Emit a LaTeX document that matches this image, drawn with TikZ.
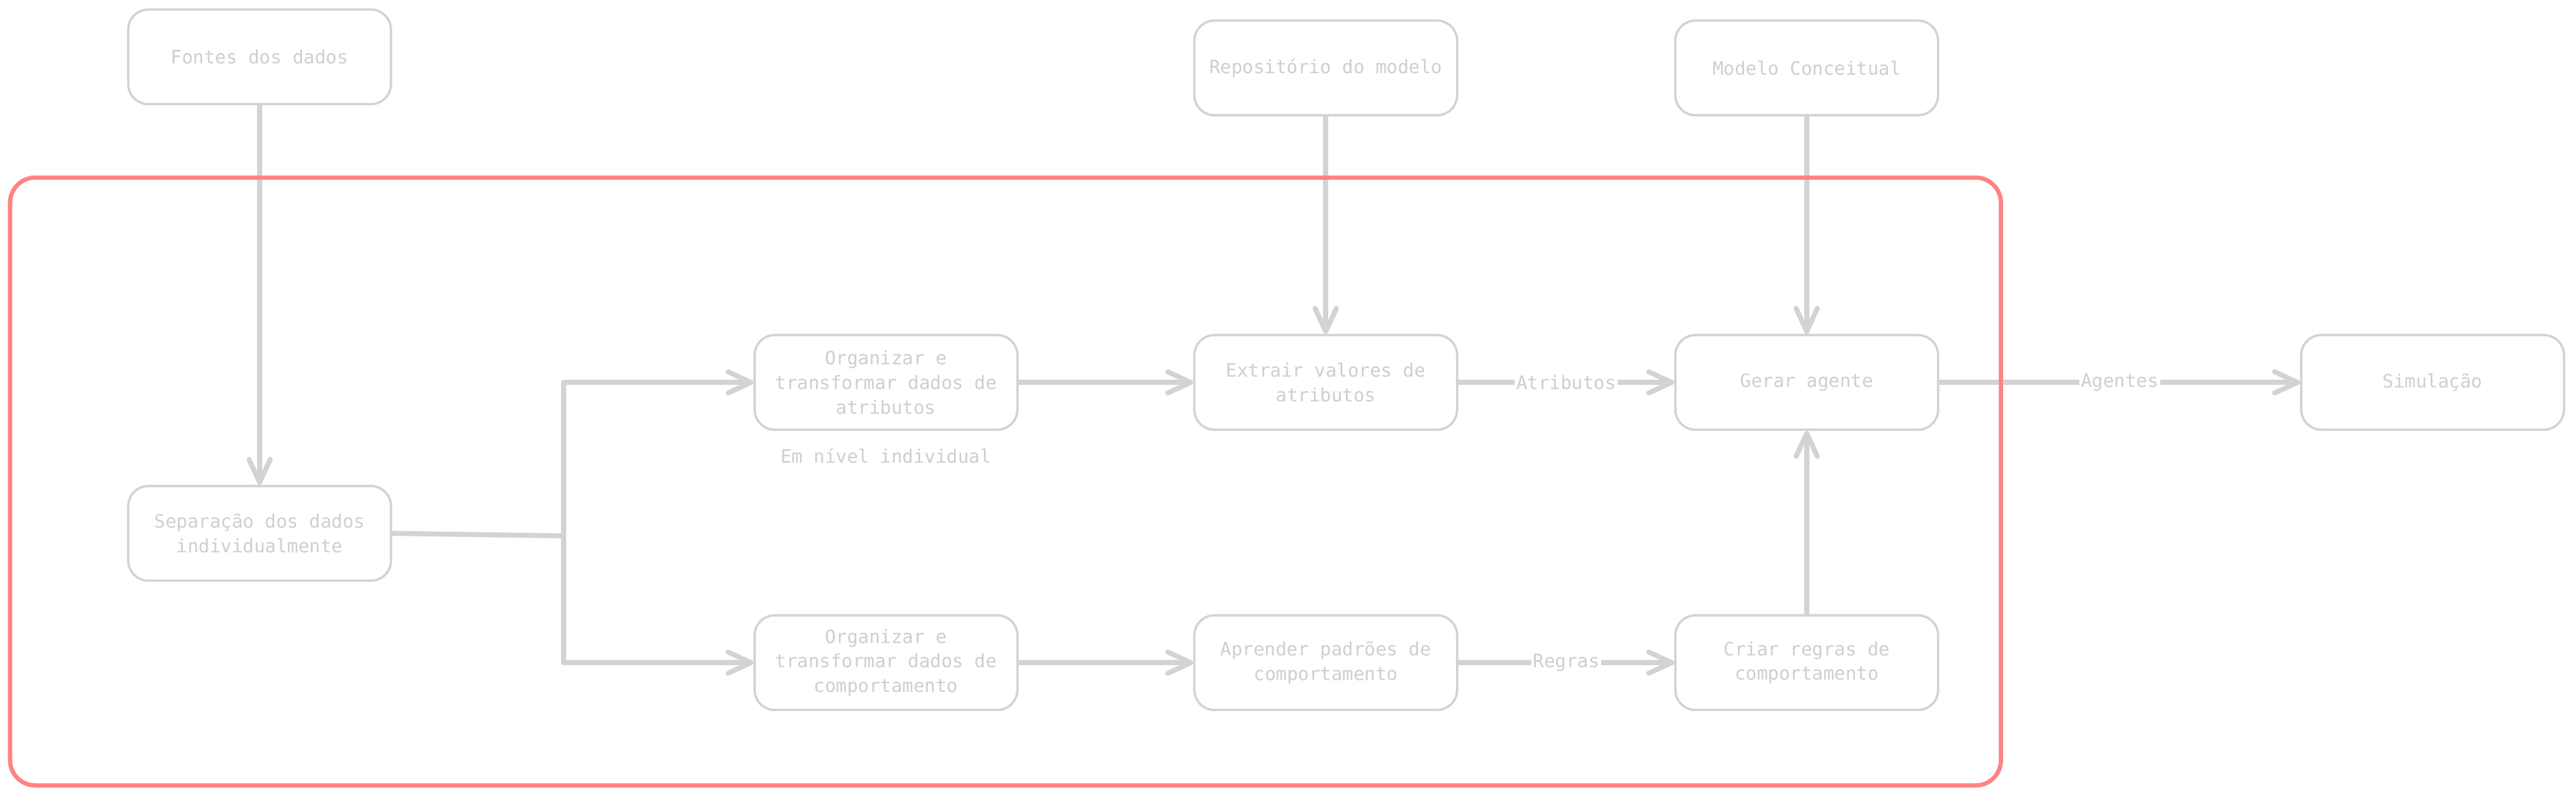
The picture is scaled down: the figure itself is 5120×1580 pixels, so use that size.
\documentclass[tikz,border=0pt]{standalone}
\usepackage{fontspec}
\newfontfamily\sketchfont{DejaVu Sans Mono}
\usetikzlibrary{arrows.meta,positioning}
\definecolor{boxgray}{HTML}{D3D3D3}
\definecolor{textgray}{HTML}{CFCFCF}
\definecolor{framered}{HTML}{FF8383}
\begin{document}
\begin{tikzpicture}[x=0.01cm,y=-0.01cm,
	every node/.style={font=\sketchfont\fontsize{10.4}{13.9}\selectfont,text=textgray},
	stepbox/.style={draw=boxgray,line width=1.3pt,rounded corners=0.4cm,
	minimum width=5.22cm,minimum height=1.88cm,align=center},
	flow/.style={draw=boxgray,line width=2.8pt,line cap=round,line join=round},
	arrow/.style={flow,-{Straight Barb[length=13pt,width=12pt,round]}},
	tag/.style={fill=white,inner sep=1pt}]
\useasboundingbox (0,0) rectangle (5120,1580);
% inputs
\node[stepbox] (fontes) at (516,113) {Fontes dos dados};
\node[stepbox] (repo) at (2635,135) {Repositório do modelo};
\node[stepbox] (conceito) at (3591,135) {Modelo Conceitual};
% process
\node[stepbox] (separa) at (516,1060) {Separação dos dados\\individualmente};
\node[stepbox] (orgatr) at (1761,760) {Organizar e\\transformar dados de\\atributos};
\node[below=0.22cm of orgatr] (nivel) {Em nível individual};
\node[stepbox] (extrair) at (2635,760) {Extrair valores de\\atributos};
\node[stepbox] (gerar) at (3591,760) {Gerar agente};
\node[stepbox] (orgcomp) at (1761,1317) {Organizar e\\transformar dados de\\comportamento};
\node[stepbox] (aprender) at (2635,1317) {Aprender padrões de\\comportamento};
\node[stepbox] (criar) at (3591,1317) {Criar regras de\\comportamento};
\node[stepbox] (simul) at (4835,760) {Simulação};
% connectors
\coordinate (split) at (1120,1065);
\draw[arrow] (fontes) -- (separa);
\draw[flow] (separa.east) -- (split);
\draw[flow] (orgatr.west -| split) -- (orgcomp.west -| split);
\draw[arrow] (orgatr.west -| split) -- (orgatr);
\draw[arrow] (orgcomp.west -| split) -- (orgcomp);
\draw[arrow] (orgatr) -- (extrair);
\draw[arrow] (orgcomp) -- (aprender);
\draw[arrow] (repo) -- (extrair);
\draw[arrow] (conceito) -- (gerar);
\draw[arrow] (extrair) -- node[tag] {Atributos} (gerar);
\draw[arrow] (gerar) -- node[tag] {Agentes} (simul);
\draw[arrow] (aprender) -- node[tag] {Regras} (criar);
\draw[arrow] (criar) -- (gerar);
% frame
\draw[framered,line width=2.4pt,rounded corners=0.5cm] (20,353) rectangle (3977,1561);
\end{tikzpicture}
\end{document}
